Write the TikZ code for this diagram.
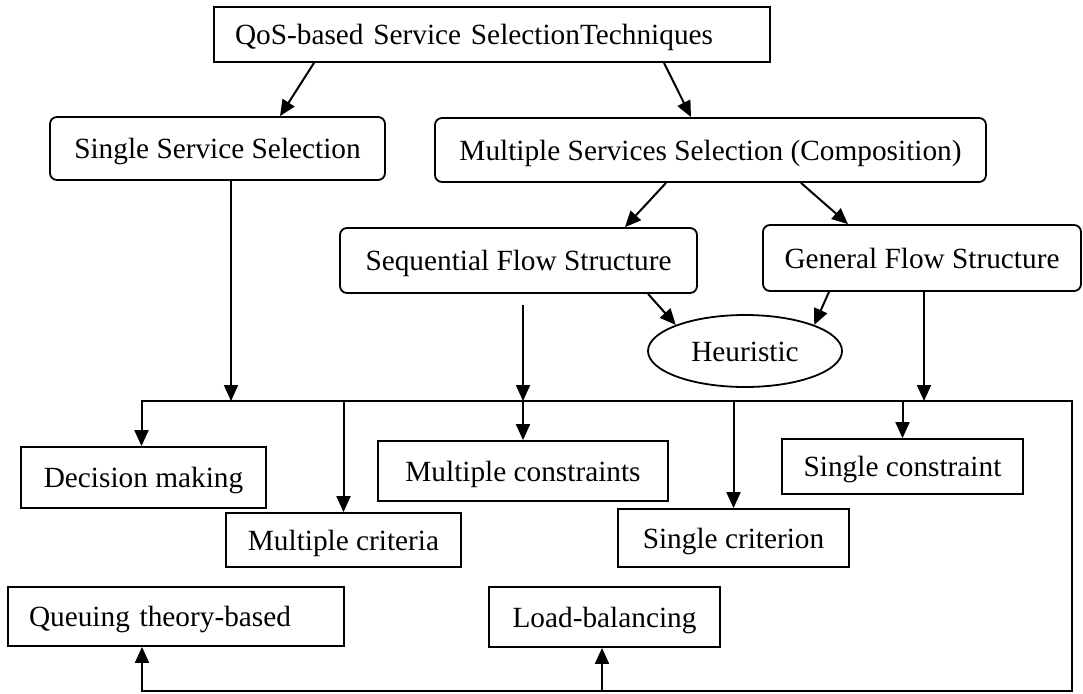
\documentclass[tikz,border=0pt]{standalone}
\usepackage{fontspec}
\setmainfont{Liberation Serif}
\usetikzlibrary{arrows.meta,shapes.geometric}
\begin{document}
\begin{tikzpicture}[x=1pt,y=-1pt,
  font=\fontsize{29.3}{34}\selectfont,
  box/.style={draw,line width=1.8pt,inner sep=0pt,text height=25pt,text depth=5pt},
  rbox/.style={box,rounded corners=7pt},
  arr/.style={line width=2pt,-{Triangle[length=16pt,width=14pt]}},
  arrs/.style={line width=2pt,{Triangle[length=16pt,width=14pt]}-{Triangle[length=16pt,width=14pt]}}]
\useasboundingbox (0,0) rectangle (1083,693);
\node[box,inner xsep=21pt,text width=514pt,minimum height=55pt] (qos) at (492,34.5) {QoS-based Service SelectionTechniques};
\node[rbox,minimum width=335pt,minimum height=63pt] (sss) at (217.5,148.5) {Single Service Selection};
\node[rbox,minimum width=551pt,minimum height=64pt] (mss) at (710.5,150) {Multiple Services Selection (Composition)};
\node[rbox,minimum width=357pt,minimum height=65pt] (seq) at (518.5,260.5) {Sequential Flow Structure};
\node[rbox,minimum width=318pt,minimum height=66pt] (gen) at (922,258) {General Flow Structure};
\node[box,ellipse,minimum width=194pt,minimum height=72pt] (heur) at (745,351) {Heuristic};
\node[box,minimum width=245pt,minimum height=61pt] (dec) at (143.5,477.5) {Decision making};
\node[box,minimum width=290pt,minimum height=60pt] (mcons) at (523,471) {Multiple constraints};
\node[box,minimum width=241pt,minimum height=55pt] (scons) at (902.5,466.5) {Single constraint};
\node[box,minimum width=235pt,minimum height=54pt] (mcrit) at (343.5,540) {Multiple criteria};
\node[box,minimum width=231pt,minimum height=58pt] (scrit) at (733.5,538) {Single criterion};
\node[box,inner xsep=21pt,text width=294pt,minimum height=59pt] (queue) at (176,616.5) {Queuing theory-based};
\node[box,minimum width=231pt,minimum height=60pt] (load) at (604.5,617) {Load-balancing};
\coordinate (busR) at (1072,401);
\coordinate (botR) at (1072,691);
% tree
\draw[arr] ([xshift=-178pt]qos.south) -- ([xshift=62.5pt]sss.north);
\draw[arr] ([xshift=172pt]qos.south) -- ([xshift=-19.5pt]mss.north);
\draw[arr] ([xshift=-44.5pt]mss.south) -- ([xshift=106.5pt]seq.north);
\draw[arr] ([xshift=90.5pt]mss.south) -- ([xshift=-74pt]gen.north);
\draw[arr] ([xshift=129.5pt]seq.south) -- (heur.north west);
\draw[arr] ([xshift=-93pt]gen.south) -- (heur.north east);
% into the bus
\draw[arr] ([xshift=13.5pt]sss.south) -- ([xshift=13.5pt]sss.south |- busR);
\draw[arr] ([xshift=4.5pt,yshift=-11pt]seq.south) -- ([xshift=4.5pt]seq.south |- busR);
\draw[arr] ([xshift=2pt]gen.south) -- ([xshift=2pt]gen.south |- busR);
% bus
\draw[arrs] ([xshift=-2pt]dec.north) -- ([xshift=-2pt]dec.north |- busR) -- (busR)
  -- (botR) -- ([xshift=-34pt]queue.south |- botR) -- ([xshift=-34pt]queue.south);
\foreach \n in {mcrit,mcons,scrit,scons}
  \draw[arr] (\n.north |- busR) -- (\n.north);
\draw[arr] ([xshift=-2.5pt]load.south |- botR) -- ([xshift=-2.5pt]load.south);
\end{tikzpicture}
\end{document}
